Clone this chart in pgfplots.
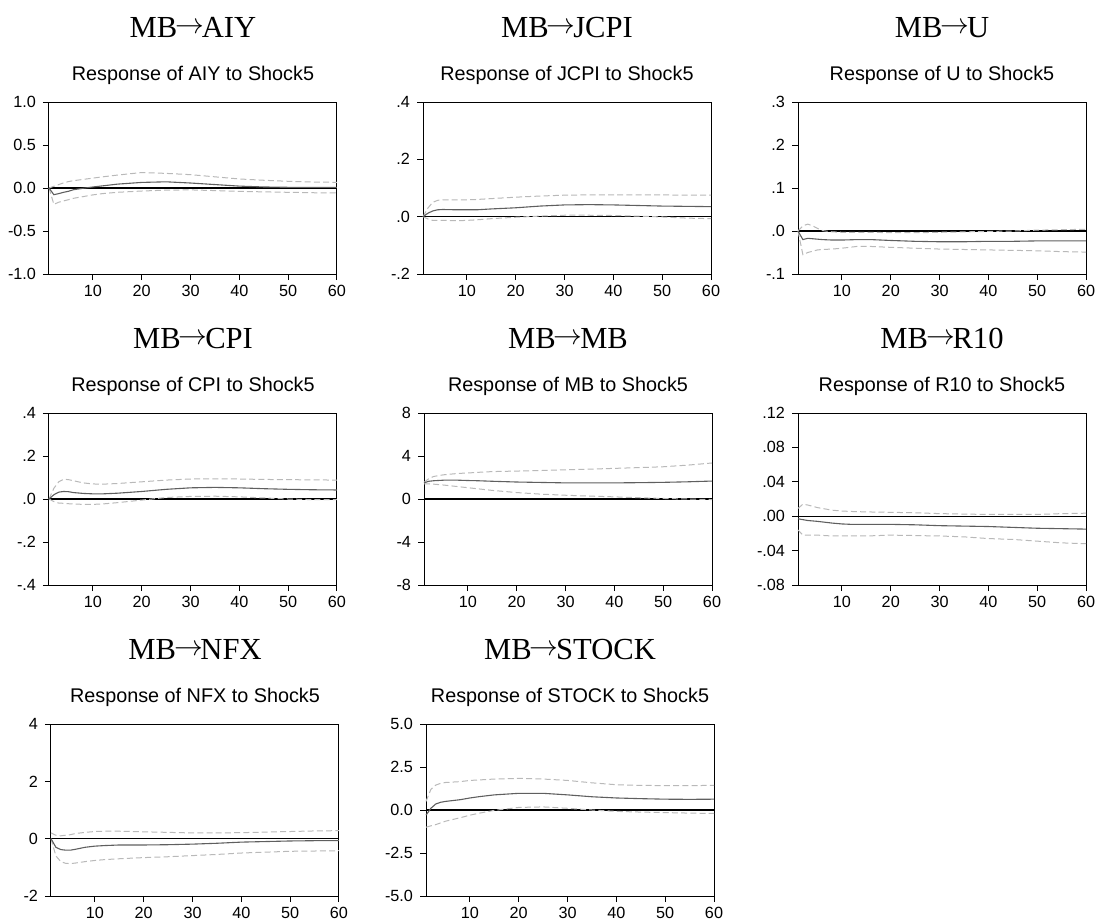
\documentclass[border=0pt]{standalone}
\usepackage{pgfplots}
\usepackage{pgfplotstable}
\pgfplotsset{compat=1.18}
\usepackage{fontspec}
\setmainfont{Liberation Sans}
\newfontfamily\titlefont{Liberation Serif}

\pgfplotstableread{
x r u l
1 0 0 0
2 -0.078 0.02 -0.19
3 -0.065 0.04 -0.165
4 -0.05 0.06 -0.15
5 -0.038 0.075 -0.136
6 -0.02 0.085 -0.12
8 -0.003 0.10 -0.10
10 0.012 0.115 -0.08
12 0.025 0.13 -0.065
15 0.045 0.15 -0.05
20 0.065 0.18 -0.035
25 0.072 0.17 -0.025
30 0.058 0.155 -0.022
35 0.04 0.13 -0.03
40 0.022 0.105 -0.039
45 0.012 0.09 -0.045
50 0.008 0.078 -0.05
55 0.007 0.07 -0.055
60 0.007 0.066 -0.058
}\tAIY
\pgfplotstableread{
x r u l
1 0 0 0
2 0.012 0.03 -0.008
3 0.02 0.05 -0.013
4 0.024 0.057 -0.013
5 0.025 0.059 -0.013
8 0.024 0.059 -0.014
10 0.024 0.059 -0.013
12 0.024 0.06 -0.011
15 0.027 0.063 -0.007
20 0.031 0.068 -0.002
25 0.037 0.072 0.002
30 0.041 0.075 0.005
35 0.042 0.076 0.005
40 0.041 0.076 0.004
45 0.039 0.076 0.002
50 0.037 0.076 -0.001
55 0.036 0.075 -0.005
60 0.035 0.075 -0.007
}\tJCPI
\pgfplotstableread{
x r u l
1 0 0 0
2 -0.02 0.012 -0.055
3 -0.017 0.016 -0.05
4 -0.018 0.012 -0.047
5 -0.019 0.006 -0.044
6 -0.02 0.001 -0.043
8 -0.021 -0.002 -0.042
10 -0.021 -0.003 -0.04
13 -0.02 -0.003 -0.036
16 -0.02 -0.003 -0.036
20 -0.022 -0.004 -0.038
25 -0.024 -0.004 -0.04
30 -0.025 -0.003 -0.042
35 -0.025 -0.002 -0.043
40 -0.024 -0.001 -0.044
45 -0.024 0 -0.045
50 -0.023 0.002 -0.046
55 -0.023 0.003 -0.048
60 -0.023 0.004 -0.049
}\tU
\pgfplotstableread{
x r u l
1 0 0 0
2 0.02 0.05 -0.012
3 0.032 0.08 -0.019
4 0.035 0.092 -0.02
5 0.034 0.09 -0.022
6 0.03 0.085 -0.023
8 0.026 0.075 -0.025
10 0.024 0.07 -0.025
12 0.024 0.069 -0.023
15 0.027 0.072 -0.017
20 0.035 0.08 -0.005
25 0.045 0.088 0.007
30 0.052 0.093 0.012
35 0.054 0.094 0.013
40 0.052 0.093 0.01
45 0.048 0.091 0.005
50 0.045 0.09 0.0
55 0.043 0.089 -0.003
60 0.042 0.088 -0.003
}\tCPI
\pgfplotstableread{
x r u l
1 1.5 1.55 1.42
2 1.65 1.9 1.4
3 1.7 2.1 1.38
5 1.75 2.25 1.3
8 1.75 2.38 1.15
10 1.72 2.42 1.05
12 1.7 2.48 0.95
15 1.65 2.55 0.8
20 1.58 2.6 0.6
25 1.54 2.65 0.45
30 1.5 2.72 0.35
35 1.5 2.78 0.27
40 1.5 2.85 0.2
45 1.52 2.92 0.12
50 1.55 3.0 0.05
55 1.6 3.15 0.0
60 1.67 3.35 -0.05
}\tMB
\pgfplotstableread{
x r u l
1 -0.003 0.009 -0.016
2 -0.004 0.014 -0.022
3 -0.005 0.013 -0.022
5 -0.006 0.01 -0.022
8 -0.008 0.007 -0.023
10 -0.009 0.006 -0.023
12 -0.0095 0.0055 -0.023
15 -0.0095 0.005 -0.023
20 -0.0095 0.0045 -0.022
25 -0.01 0.004 -0.0225
30 -0.011 0.003 -0.023
35 -0.0115 0.0025 -0.024
40 -0.012 0.002 -0.026
45 -0.013 0.002 -0.027
50 -0.014 0.002 -0.029
55 -0.0145 0.003 -0.031
60 -0.015 0.0035 -0.032
}\tRten
\pgfplotstableread{
x r u l
1 0 0.2 0
2 -0.3 0.12 -0.6
3 -0.38 0.1 -0.8
4 -0.4 0.12 -0.86
5 -0.4 0.14 -0.87
6 -0.37 0.18 -0.85
8 -0.3 0.22 -0.8
10 -0.26 0.25 -0.76
12 -0.24 0.26 -0.73
15 -0.22 0.26 -0.7
20 -0.22 0.24 -0.66
25 -0.21 0.22 -0.63
30 -0.19 0.2 -0.59
35 -0.16 0.2 -0.55
40 -0.12 0.21 -0.5
45 -0.1 0.23 -0.47
50 -0.08 0.25 -0.44
55 -0.07 0.27 -0.43
60 -0.07 0.28 -0.42
}\tNFX
\pgfplotstableread{
x r u l
1 -0.3 0.5 -1.0
2 0.1 1.2 -0.92
3 0.35 1.45 -0.85
4 0.45 1.55 -0.75
5 0.5 1.6 -0.65
8 0.6 1.65 -0.45
10 0.7 1.72 -0.3
12 0.78 1.75 -0.18
15 0.88 1.8 -0.02
20 0.97 1.84 0.15
25 0.97 1.8 0.18
30 0.88 1.72 0.1
35 0.77 1.58 0.0
40 0.7 1.47 -0.08
45 0.66 1.43 -0.12
50 0.63 1.42 -0.15
55 0.62 1.42 -0.18
60 0.63 1.43 -0.2
}\tSTOCK

\definecolor{resp}{RGB}{95,95,95}
\definecolor{band}{RGB}{185,185,185}

\pgfplotsset{
  every axis title shift=0pt,
  irf/.style={
    scale only axis, width=144pt, height=86pt, anchor=south west,
    xmin=1, xmax=60, xtick={10,20,30,40,50,60},
    xticklabels={10,20,30,40,50,60},
    tick pos=left, tick align=outside, major tick length=3pt,
    axis line style={line width=0.5pt},
    tick style={line width=0.5pt, black},
    tick label style={font=\fontsize{8.1}{9}\selectfont},
    xticklabel style={yshift=1pt},
    /pgf/number format/assume math mode=true,
    title style={font=\fontsize{9.9}{11}\selectfont, at={(0.5,1)}, anchor=base, yshift=11pt, inner sep=0pt},
    clip=false,
  },
}
\newcommand{\irfplots}[1]{%
  \addplot[black, line width=0.6pt] coordinates {(1,0) (60,0)};
  \addplot[band, line width=0.5pt, dash pattern=on 3pt off 1.6pt] table[x=x,y=u] {#1};
  \addplot[band, line width=0.5pt, dash pattern=on 3pt off 1.6pt] table[x=x,y=l] {#1};
  \addplot[resp, line width=0.55pt] table[x=x,y=r] {#1};
}
\newcommand{\arr}{\kern-0.06em\raisebox{0.1em}{$\rightarrow$}\kern-0.08em}
\newcommand{\bigtitle}[1]{%
  \node[anchor=base, inner sep=0pt, font=\titlefont\fontsize{15.3}{17}\selectfont] at (rel axis cs:0.5,1) [yshift=32.5pt] {#1};
}

\begin{document}
\begin{tikzpicture}
\useasboundingbox (0,0) rectangle (548.5pt,-460.5pt);

\begin{axis}[irf, at={(24.5pt,-137pt)}, ymin=-1, ymax=1,
  ytick={-1,-0.5,0,0.5,1}, yticklabels={-1.0,-0.5,0.0,0.5,1.0},
  title={Response of AIY to Shock5}]
\irfplots{\tAIY}
\bigtitle{MB\arr AIY}
\end{axis}

\begin{axis}[irf, at={(211.5pt,-137pt)}, ymin=-0.2, ymax=0.4,
  ytick={-0.2,0,0.2,0.4}, yticklabels={-.2,.0,.2,.4},
  title={Response of JCPI to Shock5}]
\irfplots{\tJCPI}
\bigtitle{MB\arr JCPI}
\end{axis}

\begin{axis}[irf, at={(399pt,-137pt)}, ymin=-0.1, ymax=0.3,
  ytick={-0.1,0,0.1,0.2,0.3}, yticklabels={-.1,.0,.1,.2,.3},
  title={Response of U to Shock5}]
\irfplots{\tU}
\bigtitle{MB\arr U}
\end{axis}

\begin{axis}[irf, at={(24.5pt,-292.5pt)}, ymin=-0.4, ymax=0.4,
  ytick={-0.4,-0.2,0,0.2,0.4}, yticklabels={-.4,-.2,.0,.2,.4},
  title={Response of CPI to Shock5}]
\irfplots{\tCPI}
\bigtitle{MB\arr CPI}
\end{axis}

\begin{axis}[irf, at={(212pt,-292.5pt)}, ymin=-8, ymax=8,
  ytick={-8,-4,0,4,8}, yticklabels={-8,-4,0,4,8},
  title={Response of MB to Shock5}]
\irfplots{\tMB}
\bigtitle{MB\arr MB}
\end{axis}

\begin{axis}[irf, at={(399pt,-292.5pt)}, ymin=-0.08, ymax=0.12,
  ytick={-0.08,-0.04,0,0.04,0.08,0.12}, yticklabels={-.08,-.04,.00,.04,.08,.12},
  title={Response of R10 to Shock5}]
\irfplots{\tRten}
\bigtitle{MB\arr R10}
\end{axis}

\begin{axis}[irf, at={(25.5pt,-448pt)}, ymin=-2, ymax=4,
  ytick={-2,0,2,4}, yticklabels={-2,0,2,4},
  title={Response of NFX to Shock5}]
\irfplots{\tNFX}
\bigtitle{MB\arr NFX}
\end{axis}

\begin{axis}[irf, at={(213pt,-448pt)}, ymin=-5, ymax=5,
  ytick={-5,-2.5,0,2.5,5}, yticklabels={-5.0,-2.5,0.0,2.5,5.0},
  title={Response of STOCK to Shock5}]
\irfplots{\tSTOCK}
\bigtitle{MB\arr STOCK}
\end{axis}

\end{tikzpicture}
\end{document}
